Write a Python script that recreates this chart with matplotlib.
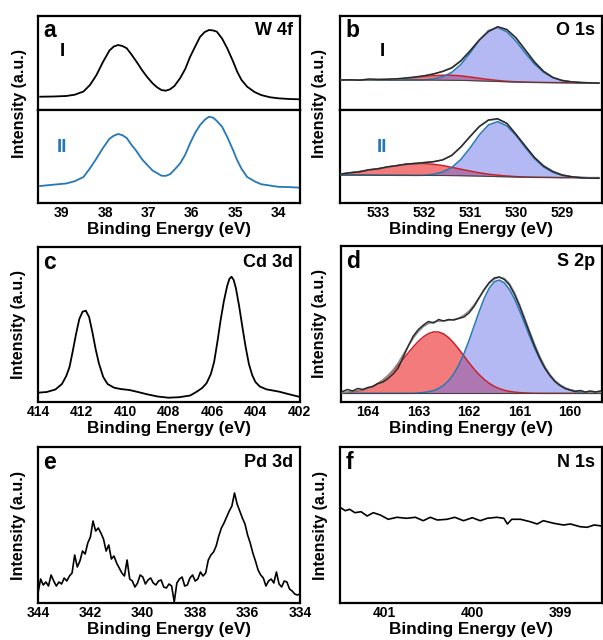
import matplotlib
matplotlib.use('Agg')
import matplotlib.pyplot as plt

plt.rcParams['font.family'] = ['Liberation Sans', 'DejaVu Sans']
plt.rcParams['font.weight'] = 'bold'

# ---------------------------------------------------------------------------
# (a) W 4f, two samples
a_energy = [39.5, 39.2, 38.9, 38.7, 38.5, 38.35, 38.2, 38.05, 37.9, 37.8, 37.7, 37.6,
            37.5, 37.4, 37.27, 37.15, 37.03, 36.9, 36.8, 36.7, 36.6, 36.5, 36.4, 36.27,
            36.15, 36.04, 35.92, 35.81, 35.7, 35.6, 35.5, 35.42, 35.3, 35.18, 35.05, 34.95,
            34.85, 34.72, 34.55, 34.4, 34.2, 34.0, 33.75, 33.5]
a_int_I = [13.3, 13.5, 14.0, 15.3, 18.5, 25.0, 35.0, 48.0, 59.5, 63.5, 65.0, 64.0,
           61.7, 56.0, 48.0, 40.0, 33.0, 26.5, 22.7, 20.0, 19.3, 20.7, 24.0, 31.7,
           41.0, 53.0, 63.5, 73.0, 78.0, 80.0, 79.5, 78.3, 71.5, 61.7, 49.0, 38.3,
           30.0, 23.3, 18.0, 15.0, 12.8, 11.7, 11.0, 10.7]
a_int_II = [17.0, 18.3, 19.5, 21.8, 26.0, 34.7, 44.5, 55.0, 64.2, 67.3, 69.0, 67.8,
            64.9, 58.7, 51.5, 43.8, 38.2, 32.3, 29.9, 27.3, 27.1, 28.8, 33.2, 39.5,
            48.3, 59.5, 70.2, 77.8, 83.2, 86.3, 85.2, 82.0, 76.3, 66.0, 53.3, 42.7,
            34.2, 26.0, 21.7, 18.8, 17.5, 16.2, 15.9, 15.3]

# (b) O 1s, two samples with fitted components
b_energy = [533.8, 533.6, 533.4, 533.2, 533.0, 532.8, 532.6, 532.4, 532.2, 532.0,
            531.8, 531.6, 531.4, 531.2, 531.0, 530.8, 530.6, 530.4, 530.2, 530.0,
            529.8, 529.6, 529.4, 529.2, 529.0, 528.8, 528.6, 528.4, 528.2]
b_I_data = [30.0, 30.2, 29.8, 31.0, 30.6, 30.8, 31.2, 32.0, 33.0, 34.2,
            36.0, 38.5, 42.0, 49.0, 59.0, 70.0, 78.5, 83.3, 80.5, 72.0,
            60.0, 48.0, 38.5, 32.5, 29.5, 28.2, 27.5, 27.2, 26.8]
b_I_fit = [30.0, 30.0, 30.1, 30.2, 30.4, 30.6, 31.0, 31.7, 32.7, 34.0,
           35.9, 38.6, 42.5, 49.5, 59.5, 70.0, 78.8, 82.8, 80.2, 72.2,
           60.3, 48.2, 38.8, 32.8, 29.6, 28.2, 27.5, 27.2, 27.0]
b_I_bg = [30.0, 30.0, 30.0, 30.0, 30.0, 30.0, 30.0, 30.0, 30.0, 30.0,
          29.9, 29.8, 29.7, 29.6, 29.4, 29.1, 28.8, 28.5, 28.2, 28.0,
          27.8, 27.6, 27.5, 27.4, 27.3, 27.2, 27.1, 27.0, 27.0]
b_I_red = [0.0, 0.0, 0.0, 0.0, 0.0, 0.3, 0.7, 1.4, 2.4, 3.5,
           4.4, 5.0, 5.0, 4.5, 3.6, 2.6, 1.7, 1.0, 0.5, 0.2,
           0.0, 0.0, 0.0, 0.0, 0.0, 0.0, 0.0, 0.0, 0.0]
b_I_blue = [0.0, 0.0, 0.0, 0.0, 0.0, 0.0, 0.0, 0.0, 0.0, 0.1,
            1.2, 3.3, 7.9, 16.0, 27.5, 40.5, 50.6, 54.0, 50.0, 40.8,
            29.2, 18.4, 10.3, 5.0, 2.2, 0.8, 0.3, 0.0, 0.0]
b_II_data = [29.0, 30.4, 31.2, 33.3, 34.2, 36.2, 37.3, 38.9, 39.5, 40.4,
             41.2, 43.0, 47.5, 56.0, 66.5, 76.5, 83.0, 84.3, 79.7, 68.5,
             57.0, 45.5, 37.0, 31.5, 28.0, 26.3, 25.3, 24.8, 24.7]
b_II_fit = [29.2, 30.2, 31.6, 33.0, 34.4, 35.9, 37.4, 38.7, 39.7, 40.5,
            41.4, 43.2, 47.7, 56.2, 66.5, 76.3, 82.8, 83.8, 79.5, 68.8,
            57.0, 45.7, 37.2, 31.6, 28.2, 26.4, 25.5, 25.0, 24.8]
b_II_bg = [28.0, 28.0, 27.9, 27.9, 27.8, 27.8, 27.7, 27.7, 27.6, 27.6,
           27.5, 27.5, 27.4, 27.3, 27.1, 26.9, 26.6, 26.4, 26.2, 26.0,
           25.8, 25.7, 25.6, 25.5, 25.4, 25.4, 25.3, 25.3, 25.3]
b_II_red = [1.0, 2.0, 3.5, 5.0, 6.3, 8.0, 9.6, 10.8, 11.6, 11.8,
            11.2, 10.0, 8.3, 6.5, 4.8, 3.3, 2.2, 1.4, 0.8, 0.4,
            0.2, 0.0, 0.0, 0.0, 0.0, 0.0, 0.0, 0.0, 0.0]
b_II_blue = [0.0, 0.0, 0.0, 0.0, 0.0, 0.0, 0.0, 0.0, 0.0, 0.1,
             1.2, 3.4, 8.0, 16.3, 28.0, 41.2, 51.5, 55.0, 51.0, 41.5,
             29.7, 18.7, 10.5, 5.1, 2.2, 0.8, 0.3, 0.0, 0.0]

# (c) Cd 3d
c_energy = [414.0, 413.6, 413.2, 412.9, 412.7, 412.55, 412.4, 412.25, 412.1, 411.95,
            411.8, 411.65, 411.5, 411.35, 411.2, 411.0, 410.8, 410.5, 410.2, 409.8,
            409.4, 409.0, 408.5, 408.0, 407.5, 407.0, 406.7, 406.45, 406.25, 406.05,
            405.9, 405.75, 405.6, 405.45, 405.3, 405.2, 405.1, 405.0, 404.9, 404.75,
            404.6, 404.45, 404.3, 404.15, 404.0, 403.8, 403.5, 403.2, 402.9, 402.5, 402.0]
c_int = [9.3, 10.0, 12.5, 18.0, 26.0, 35.0, 51.0, 68.0, 83.0, 90.3,
         91.3, 85.0, 70.0, 53.0, 38.7, 25.0, 18.0, 14.3, 13.0, 12.0,
         10.0, 7.8, 5.5, 4.3, 4.8, 6.5, 10.3, 14.0, 18.7, 28.0,
         40.0, 60.0, 82.0, 101.0, 116.0, 123.0, 125.3, 122.0, 114.0, 96.0,
         75.0, 55.0, 38.0, 27.0, 20.0, 15.5, 12.7, 11.5, 10.3, 8.0, 5.3]

# (d) S 2p with two fitted components
d_energy = [164.5, 164.4, 164.3, 164.2, 164.1, 164.0, 163.9, 163.8, 163.7, 163.6,
            163.5, 163.4, 163.3, 163.2, 163.1, 163.0, 162.9, 162.8, 162.7, 162.6,
            162.5, 162.4, 162.3, 162.2, 162.1, 162.0, 161.9, 161.8, 161.7, 161.6,
            161.5, 161.4, 161.3, 161.2, 161.1, 161.0, 160.9, 160.8, 160.7, 160.6,
            160.5, 160.4, 160.3, 160.2, 160.1, 160.0, 159.9, 159.8, 159.7, 159.6,
            159.5, 159.4]
d_data = [10.5, 12.5, 11.0, 13.5, 12.5, 14.5, 15.5, 18.5, 20.0, 23.5,
          28.0, 34.0, 45.0, 56.0, 66.0, 72.5, 77.0, 80.5, 79.0, 82.5,
          81.0, 82.5, 82.0, 83.5, 85.0, 89.0, 95.5, 104.0, 112.5, 119.5,
          124.0, 125.0, 122.5, 117.0, 107.5, 96.0, 82.5, 69.0, 55.5, 44.0,
          34.0, 26.5, 20.5, 16.5, 13.5, 12.0, 10.5, 11.5, 10.0, 11.0,
          10.0, 11.0]
d_fit = [9.5, 10.0, 10.6, 11.4, 12.4, 13.8, 15.7, 18.5, 22.0, 26.5,
         32.0, 39.0, 47.5, 56.0, 64.0, 70.5, 75.5, 78.5, 80.0, 80.8,
         81.2, 81.7, 82.5, 84.0, 86.8, 91.0, 97.0, 104.5, 112.0, 118.5,
         123.0, 124.8, 123.5, 118.5, 109.5, 97.5, 84.0, 70.5, 57.5, 45.5,
         35.5, 27.5, 21.5, 17.2, 14.3, 12.4, 11.2, 10.5, 10.1, 9.9,
         9.8, 9.7]
d_bg = [8.7]*len(d_energy)
d_red = [0.5, 0.9, 1.4, 2.2, 3.3, 4.9, 7.0, 9.8, 13.3, 17.6,
         22.7, 28.2, 34.2, 40.5, 46.5, 52.0, 56.5, 59.7, 61.4, 61.3,
         59.4, 55.6, 50.3, 44.1, 37.4, 30.6, 24.3, 18.7, 13.9, 10.0,
         6.9, 4.7, 3.0, 1.9, 1.2, 0.7, 0.4, 0.2, 0.1, 0.0,
         0.0, 0.0, 0.0, 0.0, 0.0, 0.0, 0.0, 0.0, 0.0, 0.0,
         0.0, 0.0]
d_blue = [0.0, 0.0, 0.0, 0.0, 0.0, 0.0, 0.0, 0.0, 0.0, 0.0,
          0.0, 0.0, 0.0, 0.0, 0.0, 0.4, 0.8, 1.5, 2.7, 4.8,
          8.0, 12.8, 19.5, 28.4, 39.6, 52.7, 67.1, 81.6, 94.8, 105.2,
          111.6, 113.3, 110.4, 103.9, 94.4, 82.7, 69.9, 57.0, 44.9, 34.1,
          24.9, 17.7, 12.0, 7.9, 5.1, 3.1, 1.8, 1.0, 0.6, 0.3,
          0.2, 0.1]

# (e) Pd 3d, noisy
e_energy = [344.0, 343.9, 343.8, 343.7, 343.6, 343.5, 343.4, 343.3, 343.2, 343.1,
            343.0, 342.9, 342.8, 342.7, 342.6, 342.5, 342.4, 342.3, 342.2, 342.1,
            342.0, 341.9, 341.8, 341.7, 341.6, 341.5, 341.4, 341.3, 341.2, 341.1,
            341.0, 340.9, 340.8, 340.7, 340.6, 340.5, 340.4, 340.3, 340.2, 340.1,
            340.0, 339.9, 339.8, 339.7, 339.6, 339.5, 339.4, 339.3, 339.2, 339.1,
            339.0, 338.9, 338.8, 338.7, 338.6, 338.5, 338.4, 338.3, 338.2, 338.1,
            338.0, 337.9, 337.8, 337.7, 337.6, 337.5, 337.4, 337.3, 337.2, 337.1,
            337.0, 336.9, 336.8, 336.7, 336.6, 336.5, 336.4, 336.3, 336.2, 336.1,
            336.0, 335.9, 335.8, 335.7, 335.6, 335.5, 335.4, 335.3, 335.2, 335.1,
            335.0, 334.9, 334.8, 334.7, 334.6, 334.5, 334.4, 334.3, 334.2, 334.1,
            334.0]
e_int = [10, 24, 18, 21, 17, 28, 22, 17, 21, 19,
         25, 22, 27, 30, 48, 36, 42, 52, 49, 60,
         66, 82, 72, 75, 70, 64, 52, 58, 44, 47,
         40, 35, 30, 27, 43, 24, 22, 16, 20, 28,
         26, 19, 23, 25, 20, 18, 22, 23, 16, 15,
         19, 17, 1, 20, 24, 26, 17, 18, 25, 28,
         22, 24, 31, 27, 30, 43, 48, 51, 57, 67,
         75, 80, 86, 92, 97, 110, 99, 92, 85, 79,
         68, 60, 50, 42, 33, 28, 25, 17, 22, 24,
         20, 31, 19, 16, 22, 21, 14, 12, 9, 8,
         9]

# (f) N 1s, no peak
f_energy = [401.51, 401.45, 401.4, 401.34, 401.27, 401.2, 401.13, 401.05, 400.96, 400.86,
            400.75, 400.65, 400.56, 400.48, 400.4, 400.29, 400.2, 400.1, 400.0, 399.91,
            399.83, 399.72, 399.64, 399.6, 399.55, 399.45, 399.34, 399.26, 399.19, 399.07,
            398.96, 398.88, 398.77, 398.69, 398.61, 398.52]
f_int = [95.7, 92.3, 93.7, 90.3, 91.3, 87.0, 90.3, 88.0, 83.7, 85.7,
         84.7, 85.7, 82.3, 85.7, 83.0, 83.7, 85.7, 82.3, 85.3, 82.3,
         84.7, 85.7, 84.7, 79.0, 83.7, 83.7, 81.3, 79.0, 82.3, 79.7,
         78.0, 79.0, 76.3, 75.7, 78.0, 77.0]

BLUE_LINE = '#2478b8'
RED_LINE = '#c8232a'
RED_FILL = '#f37b7b'
BLUE_FILL = '#6a74ea'


# ---------------------------------------------------------------------------
def Achse(fig, px_links, px_oben, px_rechts, px_unten):
    """Axes from pixel box of the 603x640 figure."""
    b, h = 603.0, 640.0
    ax = fig.add_axes([px_links/b, 1.0 - px_unten/h, (px_rechts - px_links)/b,
                       (px_unten - px_oben)/h])
    ax.set_yticks([])
    ax.tick_params(axis='x', length=0, pad=2.5, labelsize=10)
    for sp in ax.spines.values():
        sp.set_linewidth(1.6)
    return ax
#


def Beschriften(ax, buchstabe, element, ylabel_x, y=0.9, ylabel_y=0.5):
    ax.text(0.02, y, buchstabe, transform=ax.transAxes, fontsize=16.5,
            fontweight='bold', ha='left', va='center')
    ax.text(0.975, y, element, transform=ax.transAxes, fontsize=13,
            fontweight='bold', ha='right', va='center')
    ax.set_ylabel('Intensity (a.u.)', fontsize=11.5, fontweight='bold')
    ax.yaxis.set_label_coords(ylabel_x, ylabel_y)
#


def XAchse(ax, xlim, ticks):
    ax.set_xlim(xlim)
    ax.set_xticks(ticks)
    ax.set_xticklabels([str(t) for t in ticks])
    ax.set_xlabel('Binding Energy (eV)', fontsize=12.3, fontweight='bold', labelpad=1)
#


def Komponenten(ax, energy, data, fit, bg, red, blue):
    red_top = [b + r for b, r in zip(bg, red)]
    blue_top = [b + u for b, u in zip(bg, blue)]
    ax.fill_between(energy, bg, red_top, color=RED_FILL, lw=0, zorder=1)
    ax.fill_between(energy, bg, blue_top, color=BLUE_FILL, alpha=0.5, lw=0, zorder=2)
    ax.plot(energy, red_top, color=RED_LINE, lw=1.1, zorder=3)
    ax.plot(energy, blue_top, color=BLUE_LINE, lw=1.1, zorder=3)
    ax.plot(energy, bg, color='#444444', lw=0.8, zorder=3)
    ax.plot(energy, fit, color='#8c8c8c', lw=1.1, zorder=4)
    ax.plot(energy, data, color='#2a2a2a', lw=1.1, zorder=5)
#


fig = plt.figure(figsize=(6.03, 6.40), dpi=100)

# --- a
ax_a1 = Achse(fig, 38, 16, 300, 110)
ax_a2 = Achse(fig, 38, 110, 300, 203)
ax_a1.plot(a_energy, a_int_I, color='black', lw=1.3)
ax_a2.plot(a_energy, a_int_II, color=BLUE_LINE, lw=1.3)
ax_a1.set_xlim(39.55, 33.5)
ax_a1.set_xticks([])
ax_a1.set_ylim(0, 94)
ax_a2.set_ylim(0, 93)
XAchse(ax_a2, (39.55, 33.5), [39, 38, 37, 36, 35, 34])
Beschriften(ax_a1, 'a', 'W 4f', -0.042, y=0.85, ylabel_y=0.07)
ax_a1.text(0.092, 0.62, 'I', transform=ax_a1.transAxes, fontsize=13.5, ha='center', va='center')
ax_a2.text(0.092, 0.60, 'II', transform=ax_a2.transAxes, fontsize=13.5, ha='center',
           va='center', color=BLUE_LINE)

# --- b
ax_b1 = Achse(fig, 340, 16, 602, 110)
ax_b2 = Achse(fig, 340, 110, 602, 203)
Komponenten(ax_b1, b_energy, b_I_data, b_I_fit, b_I_bg, b_I_red, b_I_blue)
Komponenten(ax_b2, b_energy, b_II_data, b_II_fit, b_II_bg, b_II_red, b_II_blue)
ax_b1.set_xlim(533.83, 528.13)
ax_b1.set_xticks([])
ax_b1.set_ylim(0, 94)
ax_b2.set_ylim(0, 93)
XAchse(ax_b2, (533.83, 528.13), [533, 532, 531, 530, 529])
Beschriften(ax_b1, 'b', 'O 1s', -0.05, y=0.85, ylabel_y=0.07)
ax_b1.text(0.16, 0.62, 'I', transform=ax_b1.transAxes, fontsize=13.5, ha='center', va='center')
ax_b2.text(0.16, 0.60, 'II', transform=ax_b2.transAxes, fontsize=13.5, ha='center',
           va='center', color=BLUE_LINE)

# --- c
ax_c = Achse(fig, 38, 247, 300, 402)
ax_c.plot(c_energy, c_int, color='black', lw=1.3)
ax_c.set_ylim(0, 155)
XAchse(ax_c, (414.0, 401.95), [414, 412, 410, 408, 406, 404, 402])
Beschriften(ax_c, 'c', 'Cd 3d', -0.046)

# --- d
ax_d = Achse(fig, 341, 246, 602, 402)
Komponenten(ax_d, d_energy, d_data, d_fit, d_bg, d_red, d_blue)
ax_d.set_ylim(0, 156)
XAchse(ax_d, (164.53, 159.37), [164, 163, 162, 161, 160])
Beschriften(ax_d, 'd', 'S 2p', -0.054)

# --- e
ax_e = Achse(fig, 38, 447, 300, 603)
ax_e.plot(e_energy, e_int, color='black', lw=1.2)
ax_e.set_ylim(0, 156)
XAchse(ax_e, (344.0, 334.0), [344, 342, 340, 338, 336, 334])
Beschriften(ax_e, 'e', 'Pd 3d', -0.046)

# --- f
ax_f = Achse(fig, 340, 447, 602, 603)
ax_f.plot(f_energy, f_int, color='black', lw=1.2)
ax_f.set_ylim(0, 156)
XAchse(ax_f, (401.51, 398.52), [401, 400, 399])
Beschriften(ax_f, 'f', 'N 1s', -0.046)

fig.savefig('out.png', dpi=100)
